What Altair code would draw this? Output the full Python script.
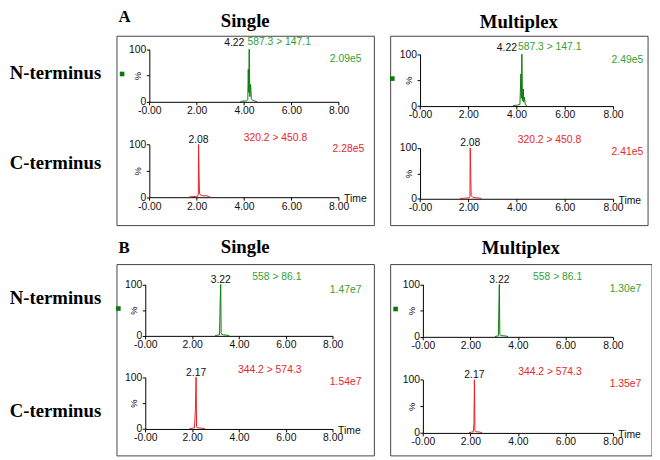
import altair as alt
import pandas as pd

# ---------------- data ----------------
rows = ["N-terminus", "C-terminus"]
conditions = ["Single", "Multiplex"]
panel_letters = ["A", "B"]

transitions_A = ["587.3 > 147.1", "320.2 > 450.8"]
transitions_B = ["558 > 86.1", "344.2 > 574.3"]
peak_rt_A = [4.22, 2.08]
peak_rt_B = [3.22, 2.17]
intensity_A_single = ["2.09e5", "2.28e5"]
intensity_A_multi = ["2.49e5", "2.41e5"]
intensity_B_single = ["1.47e7", "1.54e7"]
intensity_B_multi = ["1.30e7", "1.35e7"]

x_tick_values = [i * 0.25 for i in range(33)]
y_tick_values = [0, 50, 100]

# traces (time, % intensity)
a_single_n_t = [3.85, 3.95, 4.05, 4.12, 4.16, 4.18, 4.20, 4.22, 4.245, 4.28, 4.31, 4.36, 4.45, 4.55]
a_single_n_y = [0.5, 1.5, 1.5, 2, 4, 62, 18, 100, 10, 33, 6, 3, 1.5, 0.5]
a_single_c_t = [1.68, 1.80, 1.95, 2.04, 2.07, 2.08, 2.10, 2.12, 2.16, 2.22, 2.30, 2.40, 2.50, 2.58]
a_single_c_y = [0.5, 1, 1.5, 2, 6, 100, 47, 8, 4, 3, 2.5, 3, 1.5, 0.5]
a_multi_n_t = [3.85, 3.95, 4.05, 4.14, 4.18, 4.20, 4.22, 4.245, 4.28, 4.30, 4.33, 4.36, 4.44]
a_multi_n_y = [0.5, 1.5, 2, 3, 62, 15, 100, 10, 33, 8, 17, 3, 0.5]
a_multi_c_t = [1.66, 1.80, 1.95, 2.04, 2.07, 2.08, 2.10, 2.12, 2.18, 2.30, 2.45, 2.55]
a_multi_c_y = [0.5, 1, 1.5, 2, 5, 100, 48, 6, 3, 2, 1.5, 0.5]
b_single_n_t = [2.98, 3.10, 3.17, 3.20, 3.22, 3.24, 3.27, 3.35, 3.45, 3.58]
b_single_n_y = [0.5, 1.5, 2, 70, 100, 6, 2.5, 2, 1.5, 0.5]
b_single_c_t = [1.89, 2.00, 2.10, 2.14, 2.17, 2.19, 2.21, 2.30, 2.42, 2.54]
b_single_c_y = [0.5, 1.5, 2, 38, 100, 5, 2.5, 2, 1.5, 0.5]
b_multi_n_t = [3.03, 3.12, 3.18, 3.20, 3.22, 3.24, 3.28, 3.40, 3.50, 3.59]
b_multi_n_y = [0.5, 1.5, 2, 60, 100, 5, 2.5, 2, 1.5, 0.5]
b_multi_c_t = [1.94, 2.05, 2.12, 2.15, 2.17, 2.19, 2.22, 2.30, 2.40, 2.49]
b_multi_c_y = [0.5, 1.5, 2, 17, 100, 4, 2.5, 2, 1.5, 0.5]

# ---------------- style ----------------
SANS = "Liberation Sans"
SERIF = "Liberation Serif"
GREEN_LINE = "#0b7a0b"
GREEN_TEXT = "#35a035"
RED_LINE = "#ee1c24"
RED_TEXT = "#e8262c"
AX = "#111111"
FS = 10.5

X_LABEL_EXPR = ("datum.value % 2 == 0 ? (datum.value == 0 ? '-0.00' : "
                "format(datum.value, '.2f')) : ''")


def chromatogram(t, y, rt, transition, intensity, line_color, text_color,
                 xr, yr, H, bottom, peak_style, tr_pos, int_pos, marker):
    xs = alt.Scale(domain=[0, 8], range=xr, nice=False, zero=False)
    ys = alt.Scale(domain=[0, 100], range=yr, nice=False, zero=False)
    xaxis_kw = dict(orient="bottom", offset=-(H - yr[0]), values=x_tick_values,
                    labelExpr=X_LABEL_EXPR, grid=False, domainColor="black",
                    domainWidth=1, tickColor="black", tickSize=3, tickWidth=1,
                    labelFont=SANS, labelFontSize=FS, labelColor=AX,
                    labelPadding=1, labelOverlap=False, labelFlush=False)
    if bottom:
        xaxis = alt.Axis(title="Time", titleX=xr[1] + 5, titleY=1.5,
                         titleAlign="left", titleBaseline="middle",
                         titleFont=SANS, titleFontSize=FS, titleFontWeight="normal",
                         titleColor=AX, **xaxis_kw)
    else:
        xaxis = alt.Axis(title=None, **xaxis_kw)
    yaxis = alt.Axis(orient="left", offset=-xr[0], values=y_tick_values,
                     labelExpr="datum.value == 50 ? '' : datum.label",
                     grid=False, domainColor="black", domainWidth=1,
                     tickColor="black", tickSize=3, labelFont=SANS, labelFontSize=FS,
                     labelColor=AX, labelPadding=0.5,
                     title="%", titleAngle=270, titleX=-12,
                     titleY=(yr[0] + yr[1]) / 2, titleAlign="center",
                     titleBaseline="middle", titleFont=SANS, titleFontSize=9.5,
                     titleFontWeight="normal", titleColor=AX)
    line = alt.Chart(pd.DataFrame({"t": t, "y": y})).mark_line(
        color=line_color, strokeWidth=1).encode(
        x=alt.X("t:Q", scale=xs, axis=xaxis),
        y=alt.Y("y:Q", scale=ys, axis=yaxis))
    align, dx, dy = peak_style
    peak = alt.Chart(pd.DataFrame({"t": [rt], "y": [100.0], "label": [f"{rt:.2f}"]})).mark_text(
        align=align, baseline="bottom", dx=dx, dy=dy, font=SANS, fontSize=FS,
        color=AX).encode(x="t:Q", y="y:Q", text="label:N")
    tr = alt.Chart(pd.DataFrame({"label": [transition]})).mark_text(
        align="right", baseline="middle", font=SANS, fontSize=FS,
        color=text_color).encode(x=alt.datum(tr_pos[0]), y=alt.datum(tr_pos[1]),
                                 text="label:N")
    inten = alt.Chart(pd.DataFrame({"label": [intensity]})).mark_text(
        align="right", baseline="middle", font=SANS, fontSize=FS,
        color=text_color).encode(x=alt.datum(int_pos[0]), y=alt.datum(int_pos[1]),
                                 text="label:N")
    parts = [line, peak, tr, inten]
    if marker:
        sq = alt.Chart(pd.DataFrame({"k": [0]})).mark_square(
            color=GREEN_LINE, size=22, opacity=1).encode(
            x=alt.datum(-1.15), y=alt.datum(53))
        parts.append(sq)
    return alt.layer(*parts)


def box(cond, letter, W, H, xr, yN, yC, trans, rts, ints, tr_pos, int_pos,
        peak_styles, title_offset, labels=None):
    nchart = chromatogram(TR[(letter, cond, 0)][0], TR[(letter, cond, 0)][1], rts[0],
                          trans[0], ints[0], GREEN_LINE, GREEN_TEXT, xr, yN, H, False,
                          peak_styles[0], tr_pos[0], int_pos[0], True)
    cchart = chromatogram(TR[(letter, cond, 1)][0], TR[(letter, cond, 1)][1], rts[1],
                          trans[1], ints[1], RED_LINE, RED_TEXT, xr, yC, H, True,
                          peak_styles[1], tr_pos[1], int_pos[1], False)
    layers = [nchart, cchart]
    if labels is not None:
        ly, tY = labels
        lab = alt.Chart(pd.DataFrame({"row": rows})).mark_point(opacity=0).encode(
            y=alt.Y("row:N", sort=rows,
                    scale=alt.Scale(type="point", domain=rows, range=ly, padding=0),
                    axis=alt.Axis(orient="left", offset=16, domain=False, ticks=False,
                                  labelFont=SERIF, labelFontSize=19,
                                  labelFontWeight="bold", labelColor="black",
                                  labelPadding=0, labelAlign="right",
                                  labelBaseline="middle", labelLimit=300,
                                  title=letter, titleAngle=0, titleX=17.5, titleY=tY,
                                  titleAlign="left", titleBaseline="alphabetic",
                                  titleFont=SERIF, titleFontSize=17,
                                  titleFontWeight="bold", titleColor="black")))
        layers.insert(0, lab)
    return alt.layer(*layers).resolve_scale(
        x="independent", y="independent").resolve_axis(
        x="independent", y="independent").properties(
        width=W, height=H,
        title=alt.Title(cond, anchor="middle", frame="group", font=SERIF,
                        fontSize=19, fontWeight="bold", color="black",
                        offset=title_offset))


TR = {
    ("A", "Single", 0): (a_single_n_t, a_single_n_y),
    ("A", "Single", 1): (a_single_c_t, a_single_c_y),
    ("A", "Multiplex", 0): (a_multi_n_t, a_multi_n_y),
    ("A", "Multiplex", 1): (a_multi_c_t, a_multi_c_y),
    ("B", "Single", 0): (b_single_n_t, b_single_n_y),
    ("B", "Single", 1): (b_single_c_t, b_single_c_y),
    ("B", "Multiplex", 0): (b_multi_n_t, b_multi_n_y),
    ("B", "Multiplex", 1): (b_multi_c_t, b_multi_c_y),
}

pkA = [("right", -5, -1), ("center", 0, 0.5)]
pkB = [("center", 0, 0.5), ("center", 0, 0.5)]

a_single = box("Single", "A", 261, 192, [33.3, 225.3], [67, 13.7], [163.7, 110.3],
               transitions_A, peak_rt_A, intensity_A_single,
               [(6.83, 114), (6.67, 113)], [(8.96, 81), (9.08, 91)], pkA, -23,
               labels=([37, 129], -14))
a_multi = box("Multiplex", "A", 261, 192, [30.3, 226], [71.3, 18.7], [165.3, 113.7],
              transitions_A, peak_rt_A, intensity_A_multi,
              [(6.69, 113), (6.68, 115)], [(9.25, 89), (9.25, 92)], pkA, 4)
b_single = box("Single", "B", 261, 194, [29.2, 219.2], [72.8, 20.5], [167.2, 114.8],
               transitions_B, peak_rt_B, intensity_B_single,
               [(6.67, 114), (6.67, 114)], [(9.23, 89), (9.23, 91)], pkB, -18,
               labels=([33.5, 148.5], -11.5))
b_multi = box("Multiplex", "B", 265, 194, [33.2, 225.8], [73.8, 20.5], [171.2, 117.2],
              transitions_B, peak_rt_B, intensity_B_multi,
              [(6.71, 114), (6.69, 114)], [(9.2, 91), (9.2, 92)], pkB, 6)

chart = alt.concat(a_single, a_multi, b_single, b_multi, columns=2,
                   spacing={"row": 39.5, "column": 16.5}, bounds="flush").properties(
    padding={"top": -4, "left": 0, "right": 0, "bottom": 0},
    background="white").configure_view(stroke="#444444", strokeWidth=1)

chart.save("out.html", embed_options={"renderer": "svg", "actions": False})
